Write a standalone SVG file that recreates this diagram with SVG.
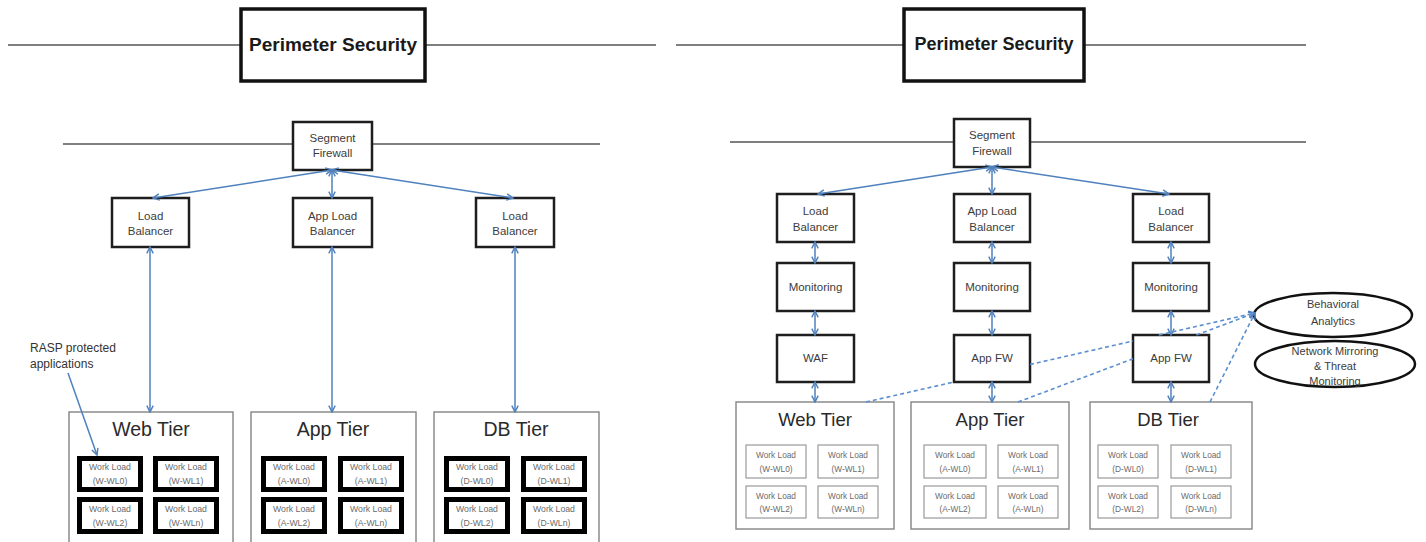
<svg xmlns="http://www.w3.org/2000/svg" width="1426" height="542" viewBox="0 0 1426 542">
  <style>
    text { font-family: "Liberation Sans", Arial, sans-serif; text-anchor: middle; }
    .rail { stroke: #7f7f7f; stroke-width: 2; fill: none; }
    .ps { fill: #fff; stroke: #111; stroke-width: 3.5; }
    .bx { fill: #fff; stroke: #1e1e1e; stroke-width: 2.5; }
    .tier { fill: #fff; stroke: #8c8c8c; stroke-width: 1.5; }
    .wlk { fill: #fff; stroke: #000; stroke-width: 5; }
    .wl { fill: #fff; stroke: #9a9a9a; stroke-width: 1.2; }
    .ell { fill: #fff; stroke: #111; stroke-width: 2.5; }
    .t-ps { font-size: 19px; font-weight: bold; fill: #1a1a1a; }
    .t-bx { font-size: 11.5px; fill: #3c3c3c; }
    .t-tier { font-size: 19.5px; fill: #2a2a2a; }
    .t-tier2 { font-size: 18.5px; fill: #2a2a2a; }
    .t-wl { font-size: 8.7px; fill: #6b6b6b; }
    .t-wl2 { font-size: 8.3px; fill: #6b6b6b; }
    .t-note { font-size: 12px; fill: #333; text-anchor: start; }
    .t-ell { font-size: 11px; fill: #3c3c3c; }
    .link { stroke: #4f81bd; stroke-width: 1.5; fill: none; }
    .end { marker-end: url(#ah); }
    .both { marker-start: url(#ah); marker-end: url(#ah); }
    .dash { stroke: #5b8fd0; stroke-width: 1.6; stroke-dasharray: 4 3; fill: none; }
  </style>
  <defs>
    <marker id="ah" viewBox="0 0 10 10" refX="9" refY="5" markerWidth="8" markerHeight="8" markerUnits="userSpaceOnUse" orient="auto-start-reverse">
      <path d="M1,1 L9,5 L1,9" fill="none" stroke="#4f81bd" stroke-width="1.8"/>
    </marker>
  </defs>

  <rect width="1426" height="542" fill="#fff"/>

  <!-- horizontal boundary rails -->
  <g id="rails">
    <line class="rail" x1="8" y1="45" x2="656" y2="45"/>
    <line class="rail" x1="676" y1="45" x2="1306" y2="45"/>
    <line class="rail" x1="63" y1="144" x2="600" y2="144"/>
    <line class="rail" x1="730" y1="142" x2="1306" y2="142"/>
  </g>

  <!-- ===== left architecture ===== -->
  <g id="L-perimeter">
    <rect class="ps" x="241" y="9" width="184" height="72"/>
    <text class="t-ps" x="333" y="51">Perimeter Security</text>
  </g>
  <g id="L-segment-fw">
    <rect class="bx" x="293" y="122" width="79" height="48"/>
    <text class="t-bx" x="332.5" y="142">Segment</text>
    <text class="t-bx" x="332.5" y="157">Firewall</text>
  </g>
  <g id="L-lb-web">
    <rect class="bx" x="112" y="198" width="77" height="49"/>
    <text class="t-bx" x="150.5" y="220">Load</text>
    <text class="t-bx" x="150.5" y="235">Balancer</text>
  </g>
  <g id="L-lb-app">
    <rect class="bx" x="293" y="198" width="79" height="49"/>
    <text class="t-bx" x="332.5" y="220">App Load</text>
    <text class="t-bx" x="332.5" y="235">Balancer</text>
  </g>
  <g id="L-lb-db">
    <rect class="bx" x="476" y="198" width="78" height="49"/>
    <text class="t-bx" x="515" y="220">Load</text>
    <text class="t-bx" x="515" y="235">Balancer</text>
  </g>
  <g id="L-rasp-note">
    <text class="t-note" x="30" y="352">RASP protected</text>
    <text class="t-note" x="30" y="368">applications</text>
  </g>

  <g id="L-web-tier">
    <rect class="tier" x="69" y="412" width="164" height="140"/>
    <text class="t-tier" x="151" y="436">Web Tier</text>
    <rect class="wlk" x="79.5" y="458.5" width="61" height="31"/>
    <text class="t-wl" x="110" y="470">Work Load</text><text class="t-wl" x="110" y="484">(W-WL0)</text>
    <rect class="wlk" x="155.5" y="458.5" width="61" height="31"/>
    <text class="t-wl" x="186" y="470">Work Load</text><text class="t-wl" x="186" y="484">(W-WL1)</text>
    <rect class="wlk" x="79.5" y="499.5" width="61" height="32"/>
    <text class="t-wl" x="110" y="512">Work Load</text><text class="t-wl" x="110" y="526">(W-WL2)</text>
    <rect class="wlk" x="155.5" y="499.5" width="61" height="32"/>
    <text class="t-wl" x="186" y="512">Work Load</text><text class="t-wl" x="186" y="526">(W-WLn)</text>
  </g>
  <g id="L-app-tier">
    <rect class="tier" x="251" y="412" width="165" height="140"/>
    <text class="t-tier" x="333" y="436">App Tier</text>
    <rect class="wlk" x="263.5" y="458.5" width="61" height="31"/>
    <text class="t-wl" x="294" y="470">Work Load</text><text class="t-wl" x="294" y="484">(A-WL0)</text>
    <rect class="wlk" x="340.5" y="458.5" width="61" height="31"/>
    <text class="t-wl" x="371" y="470">Work Load</text><text class="t-wl" x="371" y="484">(A-WL1)</text>
    <rect class="wlk" x="263.5" y="499.5" width="61" height="32"/>
    <text class="t-wl" x="294" y="512">Work Load</text><text class="t-wl" x="294" y="526">(A-WL2)</text>
    <rect class="wlk" x="340.5" y="499.5" width="61" height="32"/>
    <text class="t-wl" x="371" y="512">Work Load</text><text class="t-wl" x="371" y="526">(A-WLn)</text>
  </g>
  <g id="L-db-tier">
    <rect class="tier" x="434" y="412" width="165" height="140"/>
    <text class="t-tier" x="516" y="436">DB Tier</text>
    <rect class="wlk" x="446.5" y="458.5" width="61" height="31"/>
    <text class="t-wl" x="477" y="470">Work Load</text><text class="t-wl" x="477" y="484">(D-WL0)</text>
    <rect class="wlk" x="523.5" y="458.5" width="61" height="31"/>
    <text class="t-wl" x="554" y="470">Work Load</text><text class="t-wl" x="554" y="484">(D-WL1)</text>
    <rect class="wlk" x="446.5" y="499.5" width="61" height="32"/>
    <text class="t-wl" x="477" y="512">Work Load</text><text class="t-wl" x="477" y="526">(D-WL2)</text>
    <rect class="wlk" x="523.5" y="499.5" width="61" height="32"/>
    <text class="t-wl" x="554" y="512">Work Load</text><text class="t-wl" x="554" y="526">(D-WLn)</text>
  </g>

  <!-- ===== right architecture ===== -->
  <g id="R-perimeter">
    <rect class="ps" x="904" y="9" width="180" height="72"/>
    <text class="t-ps" x="994" y="50" style="font-size:18px">Perimeter Security</text>
  </g>
  <g id="R-segment-fw">
    <rect class="bx" x="954" y="119" width="76" height="48"/>
    <text class="t-bx" x="992" y="139">Segment</text>
    <text class="t-bx" x="992" y="155">Firewall</text>
  </g>
  <g id="R-lb-web">
    <rect class="bx" x="777" y="194" width="77" height="48"/>
    <text class="t-bx" x="815.5" y="215">Load</text>
    <text class="t-bx" x="815.5" y="231">Balancer</text>
  </g>
  <g id="R-lb-app">
    <rect class="bx" x="954" y="194" width="76" height="48"/>
    <text class="t-bx" x="992" y="215">App Load</text>
    <text class="t-bx" x="992" y="231">Balancer</text>
  </g>
  <g id="R-lb-db">
    <rect class="bx" x="1133" y="194" width="76" height="48"/>
    <text class="t-bx" x="1171" y="215">Load</text>
    <text class="t-bx" x="1171" y="231">Balancer</text>
  </g>
  <g id="R-mon-web">
    <rect class="bx" x="777" y="263" width="77" height="48"/>
    <text class="t-bx" x="815.5" y="291">Monitoring</text>
  </g>
  <g id="R-mon-app">
    <rect class="bx" x="954" y="263" width="76" height="48"/>
    <text class="t-bx" x="992" y="291">Monitoring</text>
  </g>
  <g id="R-mon-db">
    <rect class="bx" x="1133" y="263" width="76" height="48"/>
    <text class="t-bx" x="1171" y="291">Monitoring</text>
  </g>
  <g id="R-waf">
    <rect class="bx" x="777" y="335" width="77" height="47"/>
    <text class="t-bx" x="815.5" y="362">WAF</text>
  </g>
  <g id="R-appfw-app">
    <rect class="bx" x="954" y="335" width="76" height="47"/>
    <text class="t-bx" x="992" y="362">App FW</text>
  </g>
  <g id="R-appfw-db">
    <rect class="bx" x="1133" y="335" width="76" height="47"/>
    <text class="t-bx" x="1171" y="362">App FW</text>
  </g>
  <g id="R-behavioral">
    <ellipse class="ell" cx="1333" cy="315" rx="79" ry="22"/>
    <text class="t-ell" x="1333" y="308">Behavioral</text>
    <text class="t-ell" x="1333" y="325">Analytics</text>
  </g>
  <g id="R-mirroring">
    <ellipse class="ell" cx="1335" cy="364" rx="80" ry="23"/>
    <text class="t-ell" x="1335" y="355">Network Mirroring</text>
    <text class="t-ell" x="1335" y="370">&amp; Threat</text>
    <text class="t-ell" x="1335" y="385">Monitoring</text>
  </g>

  <g id="R-web-tier">
    <rect class="tier" x="736" y="402" width="158" height="127"/>
    <text class="t-tier2" x="815" y="426">Web Tier</text>
    <rect class="wl" x="746" y="445" width="60" height="33"/>
    <text class="t-wl2" x="776" y="458">Work Load</text><text class="t-wl2" x="776" y="472">(W-WL0)</text>
    <rect class="wl" x="818" y="445" width="60" height="33"/>
    <text class="t-wl2" x="848" y="458">Work Load</text><text class="t-wl2" x="848" y="472">(W-WL1)</text>
    <rect class="wl" x="746" y="486" width="60" height="32"/>
    <text class="t-wl2" x="776" y="499">Work Load</text><text class="t-wl2" x="776" y="512">(W-WL2)</text>
    <rect class="wl" x="818" y="486" width="60" height="32"/>
    <text class="t-wl2" x="848" y="499">Work Load</text><text class="t-wl2" x="848" y="512">(W-WLn)</text>
  </g>
  <g id="R-app-tier">
    <rect class="tier" x="911" y="402" width="158" height="127"/>
    <text class="t-tier2" x="990" y="426">App Tier</text>
    <rect class="wl" x="924" y="445" width="62" height="33"/>
    <text class="t-wl2" x="955" y="458">Work Load</text><text class="t-wl2" x="955" y="472">(A-WL0)</text>
    <rect class="wl" x="998" y="445" width="60" height="33"/>
    <text class="t-wl2" x="1028" y="458">Work Load</text><text class="t-wl2" x="1028" y="472">(A-WL1)</text>
    <rect class="wl" x="924" y="486" width="62" height="32"/>
    <text class="t-wl2" x="955" y="499">Work Load</text><text class="t-wl2" x="955" y="512">(A-WL2)</text>
    <rect class="wl" x="998" y="486" width="60" height="32"/>
    <text class="t-wl2" x="1028" y="499">Work Load</text><text class="t-wl2" x="1028" y="512">(A-WLn)</text>
  </g>
  <g id="R-db-tier">
    <rect class="tier" x="1090" y="402" width="162" height="127"/>
    <text class="t-tier2" x="1168" y="426">DB Tier</text>
    <rect class="wl" x="1098" y="445" width="60" height="33"/>
    <text class="t-wl2" x="1128" y="458">Work Load</text><text class="t-wl2" x="1128" y="472">(D-WL0)</text>
    <rect class="wl" x="1171" y="445" width="60" height="33"/>
    <text class="t-wl2" x="1201" y="458">Work Load</text><text class="t-wl2" x="1201" y="472">(D-WL1)</text>
    <rect class="wl" x="1098" y="486" width="60" height="32"/>
    <text class="t-wl2" x="1128" y="499">Work Load</text><text class="t-wl2" x="1128" y="512">(D-WL2)</text>
    <rect class="wl" x="1171" y="486" width="60" height="32"/>
    <text class="t-wl2" x="1201" y="499">Work Load</text><text class="t-wl2" x="1201" y="512">(D-WLn)</text>
  </g>

  <!-- connectors (drawn last; dashed feeds are split where they pass under boxes) -->
  <g id="connectors">
    <!-- left: segment firewall to load balancers -->
    <line class="link both" x1="332" y1="170" x2="153" y2="198"/>
    <line class="link both" x1="332" y1="170" x2="332" y2="198"/>
    <line class="link both" x1="332" y1="170" x2="513" y2="198"/>
    <!-- left: load balancers to tiers -->
    <line class="link both" x1="150" y1="247" x2="150" y2="412"/>
    <line class="link both" x1="332" y1="247" x2="332" y2="412"/>
    <line class="link both" x1="515" y1="247" x2="515" y2="412"/>
    <!-- RASP note pointer -->
    <line class="link end" x1="68" y1="373" x2="97" y2="455"/>

    <!-- right: segment firewall to load balancers -->
    <line class="link both" x1="992" y1="167" x2="818" y2="194"/>
    <line class="link both" x1="992" y1="167" x2="992" y2="194"/>
    <line class="link both" x1="992" y1="167" x2="1169" y2="194"/>
    <!-- right: vertical chains -->
    <line class="link both" x1="815" y1="242" x2="815" y2="263"/>
    <line class="link both" x1="815" y1="311" x2="815" y2="335"/>
    <line class="link both" x1="815" y1="382" x2="815" y2="402"/>
    <line class="link both" x1="992" y1="242" x2="992" y2="263"/>
    <line class="link both" x1="992" y1="311" x2="992" y2="335"/>
    <line class="link both" x1="992" y1="382" x2="992" y2="402"/>
    <line class="link both" x1="1171" y1="242" x2="1171" y2="263"/>
    <line class="link both" x1="1171" y1="311" x2="1171" y2="335"/>
    <line class="link both" x1="1171" y1="382" x2="1171" y2="402"/>
    <!-- right: telemetry feeds to analytics -->
    <line class="dash" x1="866" y1="402" x2="954" y2="382"/>
    <line class="dash" x1="1030" y1="364.5" x2="1133" y2="341"/>
    <line class="dash end" x1="1158.8" y1="335" x2="1255" y2="313"/>
    <line class="dash" x1="1018" y1="402" x2="1133" y2="358.8"/>
    <line class="dash end" x1="1196.4" y1="335" x2="1255" y2="313"/>
    <line class="dash end" x1="1210" y1="402" x2="1255" y2="313"/>
  </g>
</svg>
